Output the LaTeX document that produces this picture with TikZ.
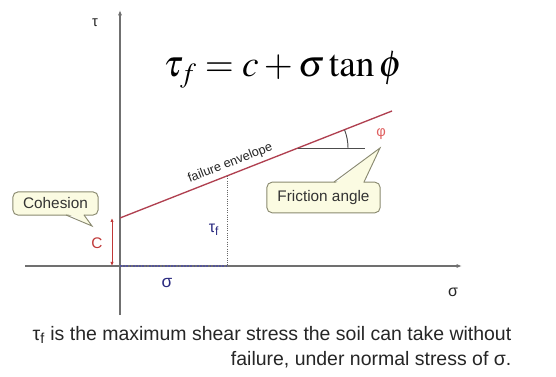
\documentclass[tikz,border=0pt]{standalone}
\usepackage{mathptmx}
\usepackage{fontspec}
\setmainfont{Liberation Sans}
\usetikzlibrary{arrows.meta,calc}
\definecolor{axisgray}{HTML}{707070}
\definecolor{envred}{HTML}{B04050}
\definecolor{cred}{HTML}{C03838}
\definecolor{phired}{HTML}{E06060}
\definecolor{lblue}{HTML}{2A2A80}
\definecolor{cfill}{HTML}{FBFBE2}
\definecolor{cborder}{HTML}{8A8A70}
\tikzset{
  axisline/.style={draw=axisgray, line width=0.8pt},
  envline/.style={draw=envred, line width=1pt},
  callbox/.style={draw=cborder, fill=cfill, rounded corners=4pt, line width=0.7pt, inner sep=0pt, font=\fontsize{11.5}{13}\selectfont, text=black!80},
  callside/.style={draw=cborder, line width=0.7pt},
  captext/.style={anchor=east, font=\fontsize{14.6}{16}\selectfont, text=black!85},
}
\begin{document}
\begin{tikzpicture}[x=0.75pt,y=-0.75pt]
\useasboundingbox[fill=white] (0,0) rectangle (556,377);
% axes
\coordinate (ybot) at (120,315);
\coordinate (ytop) at (120,10);
\coordinate (xl) at (25,266);
\coordinate (xr) at (462,266);
\coordinate (orig) at (120,266);
\draw[axisline,-{Latex[length=4pt,width=3pt]}] (ybot) -- (ytop);
\draw[axisline,-{Latex[length=4pt,width=3pt]}] (xl) -- (xr);
\node[text=black!85, font=\fontsize{11}{12}\selectfont] (tau) at (95,23) {τ};
\node[text=black!85, font=\fontsize{12}{13}\selectfont] (sigx) at (453,292) {σ};
% equation
\node[font=\fontsize{28}{32}\selectfont] (eq) at (283,70) {$\tau_f = c + \sigma\tan\phi$};
% envelope
\coordinate (e0) at (120,218);
\coordinate (e1) at (392,111);
\draw[envline] (e0) -- (e1) node[pos=0.42, above=2pt, sloped, font=\fontsize{9.5}{10}\selectfont, text=black!85, inner sep=1pt] (envlbl) {failure envelope};
% angle
\coordinate (a0) at (298,148);
\coordinate (a1) at (365,148);
\draw[draw=black!70, line width=0.7pt] (a0) -- (a1);
\draw[draw=black!70, line width=0.7pt] (a0) ++(37.5pt,0) arc[start angle=0, end angle=21.47, radius=37.5pt];
\node[text=phired, font=\fontsize{11}{12}\selectfont] (phi) at (381,134) {φ};
% tau_f and sigma
\coordinate (tft) at (227,176);
\coordinate (tfb) at (227,266);
\draw[draw=black!60, line width=0.7pt, densely dotted] (tft) -- (tfb);
\draw[draw=lblue!80, line width=1.4pt, densely dotted] (orig) -- (tfb);
\node[text=lblue, font=\fontsize{12}{13}\selectfont] (tflbl) at (214,230) {τ\textsubscript{f}};
\node[text=lblue, font=\fontsize{13}{14}\selectfont] (siglbl) at (167,283) {σ};
% cohesion arrow
\coordinate (c0) at (112,218);
\coordinate (c1) at (112,266);
\draw[draw=cred, line width=0.7pt, {Latex[length=3pt,width=2.5pt]}-{Latex[length=3pt,width=2.5pt]}] (c0) -- (c1);
\node[text=cred, font=\fontsize{11.5}{12}\selectfont] (clbl) at (97,243) {C};
% Friction angle callout
\node[callbox, minimum width=85pt, minimum height=23pt] (fric) at (323.5,197.5) {Friction angle};
\coordinate (ftip) at (380,148);
\coordinate (fp1) at (334,182);
\coordinate (fp2) at (364,182);
\fill[cfill] ($(fp1)+(1,1.5)$) -- (ftip) -- ($(fp2)+(-1,1.5)$) -- cycle;
\draw[callside] (fp1) -- (ftip) -- (fp2);
% Cohesion callout
\node[callbox, minimum width=64pt, minimum height=17.5pt] (coh) at (55.5,203.5) {Cohesion};
\coordinate (ctip) at (92,226);
\coordinate (cp1) at (66,215);
\coordinate (cp2) at (84,215);
\fill[cfill] ($(cp1)+(1,-1.5)$) -- (ctip) -- ($(cp2)+(-1,-1.5)$) -- cycle;
\draw[callside] (cp1) -- (ctip) -- (cp2);
% caption
\node[captext] (cap1) at (516,335) {τ\textsubscript{f} is the maximum shear stress the soil can take without};
\node[captext] (cap2) at (516,360) {failure, under normal stress of σ.};
\end{tikzpicture}
\end{document}
